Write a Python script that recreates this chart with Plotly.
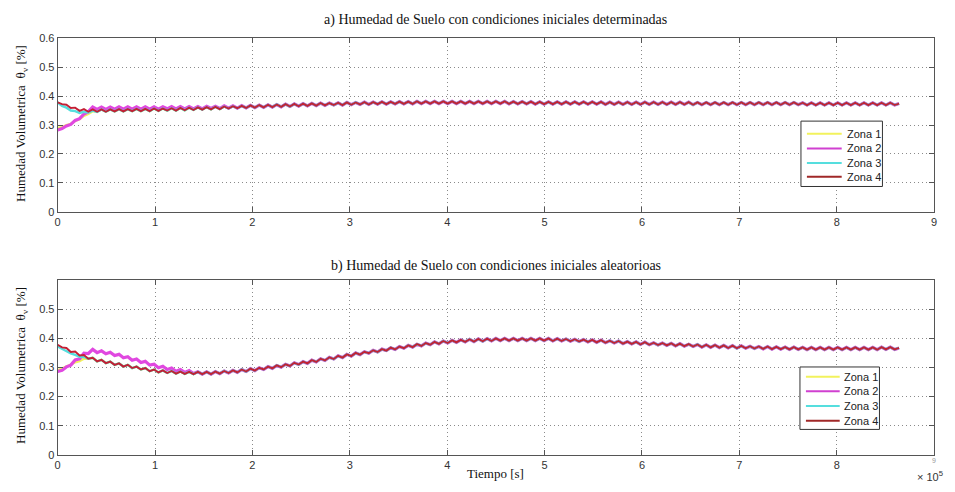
import plotly.graph_objects as go

# time sampling (units of 1e5 s), one sample every 4500 s -> 0 .. 8.64e5 s
N_SAMPLES = 193
STEP_E5 = 0.045
TIME_E5 = [round(i * STEP_E5, 4) for i in range(N_SAMPLES)]

# ---- a) condiciones iniciales determinadas (values in thousandths) ----
TOP_Z4 = [
    378, 372, 370, 359, 360, 349, 355, 346, 354, 346,
    354, 346, 354, 347, 355, 347, 355, 348, 356, 348,
    356, 348, 357, 349, 357, 350, 358, 350, 359, 351,
    360, 352, 361, 353, 362, 354, 363, 355, 364, 357,
    365, 358, 366, 359, 368, 360, 369, 361, 370, 362,
    371, 363, 372, 364, 373, 365, 374, 366, 375, 367,
    376, 368, 376, 369, 377, 369, 378, 370, 378, 371,
    379, 371, 379, 372, 380, 372, 380, 373, 381, 373,
    381, 373, 382, 374, 382, 374, 382, 374, 382, 374,
    382, 374, 382, 374, 382, 374, 382, 374, 382, 374,
    382, 374, 382, 373, 381, 373, 381, 373, 381, 372,
    380, 372, 380, 372, 380, 372, 380, 372, 380, 372,
    380, 372, 380, 372, 380, 371, 379, 371, 379, 371,
    379, 371, 379, 371, 379, 371, 379, 371, 379, 371,
    379, 371, 379, 371, 379, 370, 378, 370, 378, 370,
    378, 370, 378, 370, 378, 370, 378, 370, 378, 370,
    378, 370, 378, 370, 378, 370, 378, 370, 378, 370,
    377, 369, 377, 369, 377, 369, 377, 369, 377, 369,
    377, 369, 377, 369, 377, 369, 377, 369, 377, 369,
    377, 369, 374,
]
TOP_Z1_HEAD = [290, 293, 300, 304, 314, 320, 332, 338, 348]
TOP_Z2_HEAD = [
    283, 288, 297, 302, 316, 322, 338, 346, 362, 354,
    362, 354, 362, 355, 363, 355, 363, 355, 363, 355,
    363, 355, 363, 355, 363, 356, 364, 356, 364, 356,
    364, 356, 364, 356, 365, 357, 365, 357, 366, 358,
    366, 358, 367, 359, 368,
]
TOP_Z3_HEAD = [378, 366, 360, 350, 348, 342, 346, 343, 350, 345]

# ---- b) condiciones iniciales aleatorias (values in thousandths) ----
BOT_Z4 = [
    378, 369, 367, 353, 355, 341, 343, 330, 333, 321,
    326, 315, 320, 309, 314, 303, 309, 298, 303, 293,
    298, 287, 293, 283, 290, 281, 288, 279, 286, 278,
    285, 277, 285, 277, 285, 277, 286, 279, 288, 281,
    290, 283, 293, 286, 296, 289, 299, 293, 303, 297,
    307, 301, 311, 305, 316, 310, 320, 314, 325, 319,
    330, 324, 335, 329, 340, 334, 345, 339, 350, 344,
    354, 349, 359, 353, 363, 358, 368, 362, 372, 366,
    376, 370, 380, 374, 384, 378, 388, 381, 391, 384,
    393, 386, 395, 388, 397, 389, 398, 390, 399, 391,
    400, 392, 400, 392, 400, 392, 400, 392, 400, 392,
    400, 392, 400, 391, 399, 391, 398, 390, 397, 389,
    396, 388, 395, 386, 394, 385, 392, 384, 391, 382,
    389, 381, 388, 379, 387, 378, 385, 377, 384, 376,
    383, 374, 382, 373, 380, 372, 379, 370, 378, 369,
    377, 368, 376, 367, 375, 366, 374, 366, 373, 365,
    372, 364, 372, 363, 371, 363, 370, 362, 370, 362,
    369, 361, 369, 361, 369, 361, 369, 361, 369, 361,
    369, 361, 369, 361, 369, 361, 369, 361, 370, 362,
    370, 362, 367,
]
BOT_Z1_HEAD = [290, 296, 304, 310, 318, 322, 330, 330]
BOT_Z2_HEAD = [
    286, 290, 302, 308, 326, 330, 349, 348, 362, 351,
    357, 347, 352, 341, 345, 333, 337, 325, 329, 317,
    321, 308, 311, 299, 304, 293, 298, 287, 293, 283,
    289, 279,
]
BOT_Z3_HEAD = [372, 364, 356, 348, 343, 337, 336]

ZONES = ["Zona 1", "Zona 2", "Zona 3", "Zona 4"]
COLORS = ["#f2f25c", "#e048e0", "#55dede", "#c41f34"]
LEGEND_COLORS = ["#f2f25c", "#d040d0", "#55dede", "#a02828"]
WIDTHS = [2.4, 3.2, 2.4, 1.9]

X_TICKS = [0, 1, 2, 3, 4, 5, 6, 7, 8, 9]
Y_TICKS_TOP = [0, 0.1, 0.2, 0.3, 0.4, 0.5, 0.6]
Y_TICKS_BOT = [0, 0.1, 0.2, 0.3, 0.4, 0.5]


def compose(head, base):
    vals = list(head) + list(base[len(head):])
    return [v / 1000 for v in vals]


top_series = [compose(TOP_Z1_HEAD, TOP_Z4), compose(TOP_Z2_HEAD, TOP_Z4),
              compose(TOP_Z3_HEAD, TOP_Z4), compose([], TOP_Z4)]
bot_series = [compose(BOT_Z1_HEAD, BOT_Z4), compose(BOT_Z2_HEAD, BOT_Z4),
              compose(BOT_Z3_HEAD, BOT_Z4), compose([], BOT_Z4)]

fig = go.Figure()
for i, name in enumerate(ZONES):
    fig.add_trace(go.Scatter(x=TIME_E5, y=top_series[i], mode="lines", name=name,
                             line=dict(color=COLORS[i], width=WIDTHS[i]),
                             xaxis="x", yaxis="y", showlegend=False))
for i, name in enumerate(ZONES):
    fig.add_trace(go.Scatter(x=TIME_E5, y=bot_series[i], mode="lines", name=name,
                             line=dict(color=COLORS[i], width=WIDTHS[i]),
                             xaxis="x2", yaxis="y2", showlegend=False))

W, H = 955, 492
L, R = 55, 937
axis_common = dict(showline=True, linecolor="#555", linewidth=1, mirror="ticks",
                   ticks="inside", ticklen=5, tickcolor="#555",
                   showgrid=True, gridcolor="#8a8a8a", griddash="1px,3px", gridwidth=1,
                   zeroline=False, tickfont=dict(family="Liberation Sans", size=11, color="#333"))

fig.update_layout(
    width=W, height=H, margin=dict(l=0, r=0, t=0, b=0),
    paper_bgcolor="white", plot_bgcolor="white", showlegend=False,
    xaxis=dict(domain=[L / W, R / W], range=[0, 9], tickvals=X_TICKS,
               ticktext=[str(v) for v in X_TICKS], anchor="y", **axis_common),
    yaxis=dict(domain=[1 - 211 / H, 1 - 33 / H], range=[0, 0.6], tickvals=Y_TICKS_TOP,
               ticktext=["0", "0.1", "0.2", "0.3", "0.4", "0.5", "0.6"], anchor="x",
               **axis_common),
    xaxis2=dict(domain=[L / W, R / W], range=[0, 9], tickvals=X_TICKS,
                ticktext=[str(v) for v in X_TICKS[:-1]] + [""], anchor="y2", **axis_common),
    yaxis2=dict(domain=[1 - 460 / H, 1 - 281 / H], range=[0, 0.6], tickvals=Y_TICKS_BOT,
                ticktext=["0", "0.1", "0.2", "0.3", "0.4", "0.5"], anchor="x2",
                **axis_common),
)

serif = dict(family="Liberation Serif", color="#111")
ann = [
    dict(text="a) Humedad de Suelo con condiciones iniciales determinadas",
         x=(L + R) / 2 / W, y=1 - 14 / H, font=dict(size=14, **serif)),
    dict(text="b) Humedad de Suelo con condiciones iniciales aleatorioas",
         x=(L + R) / 2 / W, y=1 - 266 / H, font=dict(size=14, **serif)),
    dict(text="Humedad Volumetrica  θ<sub>v</sub> [%]", x=18 / W, y=1 - 120 / H,
         textangle=-90, font=dict(size=13, **serif)),
    dict(text="Humedad Volumetrica  θ<sub>v</sub> [%]", x=18 / W, y=1 - 368 / H,
         textangle=-90, font=dict(size=13, **serif)),
    dict(text="Tiempo [s]", x=(L + R) / 2 / W, y=1 - 479 / H, font=dict(size=13, **serif)),
    dict(text="× 10<sup>5</sup>", x=933 / W, y=1 - 482 / H,
         font=dict(family="Liberation Sans", size=11, color="#333")),
    dict(text="9", x=937 / W, y=1 - 466 / H,
         font=dict(family="Liberation Sans", size=7, color="#999")),
]
for a in ann:
    a.update(xref="paper", yref="paper", showarrow=False, xanchor="center", yanchor="middle")

# manual MATLAB-like legends (box, line samples, labels) in pixel layout
shapes = []
legend_boxes = [
    dict(x0=803, x1=885, y0=118, y1=185, lx0=809, lx1=844, tx=847, ys=[131, 146, 161, 175]),
    dict(x0=802, x1=882, y0=370, y1=434, lx0=808, lx1=842, tx=844, ys=[380, 395, 410, 425]),
]
for lb in legend_boxes:
    shapes.append(dict(type="rect", xref="paper", yref="paper",
                       x0=lb["x0"] / W, x1=lb["x1"] / W, y0=1 - lb["y1"] / H, y1=1 - lb["y0"] / H,
                       line=dict(color="#333", width=1), fillcolor="white", layer="above"))
    for i, name in enumerate(ZONES):
        yy = 1 - lb["ys"][i] / H
        shapes.append(dict(type="line", xref="paper", yref="paper",
                           x0=lb["lx0"] / W, x1=lb["lx1"] / W, y0=yy, y1=yy,
                           line=dict(color=LEGEND_COLORS[i], width=2), layer="above"))
        ann.append(dict(text=name, x=lb["tx"] / W, y=yy, xref="paper", yref="paper",
                        showarrow=False, xanchor="left", yanchor="middle",
                        font=dict(family="Liberation Sans", size=11, color="#222")))

fig.update_layout(annotations=ann, shapes=shapes)

fig.write_html("out.html")
